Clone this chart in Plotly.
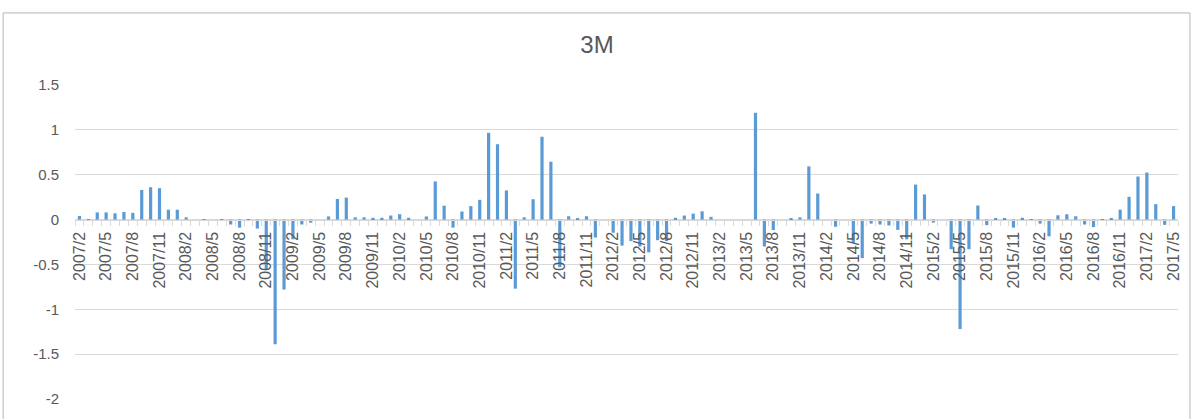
import plotly.graph_objects as go

# Monthly periods 2007/2 .. 2017/5
months = []
yr, mo = 2007, 2
while (yr, mo) <= (2017, 5):
    months.append(f"{yr}/{mo}")
    mo += 1
    if mo > 12:
        yr, mo = yr + 1, 1

# 3M monthly values
values = [
    0.04, -0.01, 0.08, 0.08, 0.07, 0.085, 0.075, 0.33, 0.36, 0.35, 0.11, 0.11,
    0.025, 0.0, -0.005, 0.0, -0.01, -0.055, -0.09, -0.01, -0.1, -0.55, -1.39, -0.78,
    -0.22, -0.055, -0.035, 0.0, 0.035, 0.23, 0.245, 0.025, 0.025, 0.02, 0.02, 0.045,
    0.06, 0.02, 0.0, 0.035, 0.425, 0.155, -0.09, 0.09, 0.15, 0.22, 0.967, 0.84,
    0.325, -0.77, 0.025, 0.227, 0.923, 0.645, -0.53, 0.037, 0.01, 0.037, -0.2, 0.0,
    -0.147, -0.29, -0.24, -0.3, -0.366, -0.23, -0.24, 0.02, 0.045, 0.066, 0.092, 0.03,
    0.0, 0.0, 0.0, 0.0, 1.19, -0.3, -0.117, 0.0, 0.015, 0.025, 0.593, 0.29,
    0.0, -0.08, 0.0, -0.26, -0.43, -0.045, -0.055, -0.066, -0.115, -0.22, 0.39, 0.28,
    -0.033, 0.0, -0.33, -1.22, -0.33, 0.157, -0.062, 0.015, 0.015, -0.09, 0.02, -0.005,
    -0.045, -0.187, 0.048, 0.059, 0.037, -0.055, -0.084, -0.007, 0.018, 0.11, 0.253, 0.48,
    0.524, 0.172, -0.059, 0.15,
]

# Every third month carries a label
tick_labels = [m if i % 3 == 0 else "" for i, m in enumerate(months)]

y_ticks = [-2, -1.5, -1, -0.5, 0, 0.5, 1, 1.5]
y_tick_text = ["-2", "-1.5", "-1", "-0.5", "0", "0.5", "1", "1.5"]
y_min, y_max = -2, 1.5

BAR = "#5b9bd5"
GRID = "#d9d9d9"
TEXT = "#595959"
FONT = "Liberation Sans, Arial, sans-serif"

fig = go.Figure(
    go.Bar(x=months, y=values, marker=dict(color=BAR, line=dict(width=0)))
)

fig.update_layout(
    width=1194,
    height=419,
    margin=dict(l=75, r=14, t=85, b=16),
    paper_bgcolor="white",
    plot_bgcolor="white",
    bargap=0.64,
    showlegend=False,
    font=dict(family=FONT, color=TEXT, size=15),
    title=dict(
        text="3M",
        x=0.5,
        xref="container",
        xanchor="center",
        y=1 - 45 / 419,
        yref="container",
        yanchor="middle",
        font=dict(family=FONT, size=24, color=TEXT),
    ),
    xaxis=dict(
        type="category",
        categoryorder="array",
        categoryarray=months,
        tickvals=months,
        ticktext=tick_labels,
        tickangle=-90,
        tickson="boundaries",
        ticks="outside",
        ticklen=5,
        tickcolor=GRID,
        ticklabelstandoff=5,
        showline=True,
        linecolor=GRID,
        linewidth=1,
        showgrid=False,
        anchor="free",
        position=(0 - y_min) / (y_max - y_min),
        range=[-0.5, len(months) - 0.5],
        tickfont=dict(family=FONT, size=16, color=TEXT),
    ),
    yaxis=dict(
        range=[y_min, y_max],
        tickvals=y_ticks,
        ticktext=y_tick_text,
        showgrid=True,
        gridcolor=GRID,
        gridwidth=1,
        zeroline=False,
        showline=False,
        ticks="",
        ticklabelstandoff=15,
        tickfont=dict(family=FONT, size=15, color=TEXT),
    ),
    shapes=[
        dict(
            type="rect",
            xref="paper",
            yref="paper",
            x0=(3 - 75) / 1105,
            x1=(1192 - 75) / 1105,
            y0=-0.3,
            y1=(403 - 12) / 318,
            line=dict(color="#b4b4b4", width=1),
            fillcolor="rgba(0,0,0,0)",
            layer="below",
        )
    ],
)

fig.write_html("out.html")
